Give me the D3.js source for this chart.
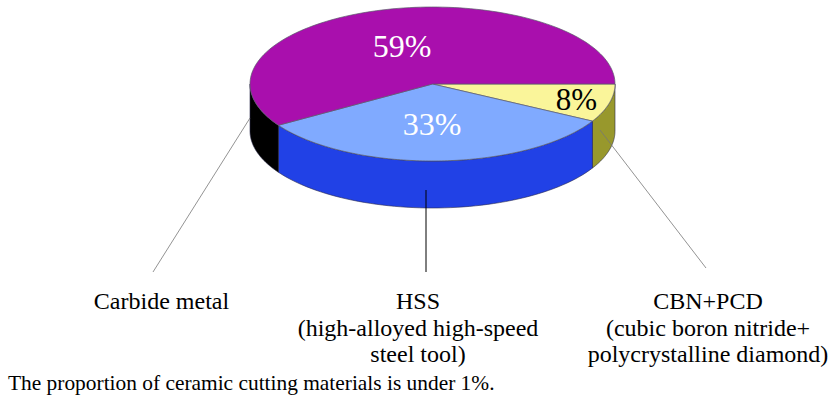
<!DOCTYPE html>
<html><head><meta charset="utf-8">
<script src="https://cdn.jsdelivr.net/npm/d3@7"></script>
<style>html,body{margin:0;padding:0;background:#fff}svg{display:block}text{font-family:"Liberation Serif",serif}</style>
</head><body><svg id="c" width="832" height="396"></svg>
<script>
const categories = ["CBN+PCD", "HSS", "Carbide metal"];
const values = [8, 33, 59];
const valueLabels = ["8%", "33%", "59%"];
const footnote = "The proportion of ceramic cutting materials is under 1%.";
const topColors = ["#FAF59A", "#80AAFF", "#A90FAD"];
const sideColors = ["#98982C", "#2141E6", "#000000"];
const categoryLines = [["CBN+PCD","(cubic boron nitride+","polycrystalline diamond)"],["HSS","(high-alloyed high-speed","steel tool)"],["Carbide metal"]];

const svg = d3.select("#c");
const cx = 432.5, cy = 84, rx = 182.5, ry = 77, depth = 47;
const sx = d3.scaleLinear().domain([-1,1]).range([cx-rx,cx+rx]);
const sy = d3.scaleLinear().domain([-1,1]).range([cy-ry,cy+ry]);
const pie = d3.pie().sort(null).value(d=>d).startAngle(Math.PI/2).endAngle(Math.PI/2+2*Math.PI);
const arcs = pie(values);
const px = a => sx(Math.sin(a)), py = a => sy(-Math.cos(a));
const line = d3.line();

arcs.forEach((d,i)=>{
  const a0 = Math.max(d.startAngle, Math.PI/2), a1 = Math.min(d.endAngle, 3*Math.PI/2);
  if (a1 <= a0) return;
  const as = d3.range(0,61).map(k=>a0+(a1-a0)*k/60);
  const pts = as.map(a=>[px(a),py(a)]).concat(as.slice().reverse().map(a=>[px(a),py(a)+depth]));
  svg.append("path").attr("d",line(pts)+"Z").attr("fill",sideColors[i]).attr("stroke","#2a2a4a").attr("stroke-width",0.6);
});

arcs.forEach((d,i)=>{
  const as = d3.range(0,121).map(k=>d.startAngle+(d.endAngle-d.startAngle)*k/120);
  const pts = [[cx,cy]].concat(as.map(a=>[px(a),py(a)]));
  svg.append("path").attr("d",line(pts)+"Z").attr("fill",topColors[i]).attr("stroke","#5a5a6a").attr("stroke-width",0.7);
});

const leaders = [[[600,130],[706,268],"#777",0.8],[[426,190],[426,272],"#000",1],[[250,118],[153,272],"#777",0.8]];
leaders.forEach(l=>svg.append("line").attr("x1",l[0][0]).attr("y1",l[0][1]).attr("x2",l[1][0]).attr("y2",l[1][1]).attr("stroke",l[2]).attr("stroke-width",l[3]));

const valuePos = [[576.5,110,"#000",31],[432,135,"#fff",32],[402,57,"#fff",32]];
valueLabels.forEach((t,i)=>svg.append("text").attr("x",valuePos[i][0]).attr("y",valuePos[i][1]).attr("text-anchor","middle").attr("font-size",valuePos[i][3]).attr("fill",valuePos[i][2]).text(t));

const labelX = [708,418,161.5], lineY = [309,336,362];
categoryLines.forEach((ls,i)=>ls.forEach((t,j)=>svg.append("text").attr("x",labelX[i]).attr("y",lineY[j]).attr("text-anchor","middle").attr("font-size",24).attr("fill","#000").text(t)));

svg.append("text").attr("x",8).attr("y",390).attr("font-size",21.4).attr("fill","#000").text(footnote);
</script></body></html>
